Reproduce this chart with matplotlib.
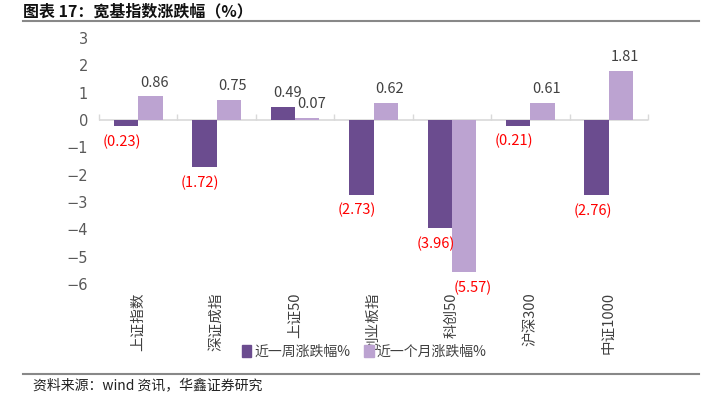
import numpy as np
import matplotlib
matplotlib.use("Agg")
import matplotlib.pyplot as plt
from matplotlib.lines import Line2D

plt.rcParams['font.family'] = ['Noto Sans CJK SC', 'DejaVu Sans']
plt.rcParams['axes.unicode_minus'] = False

categories = ["上证指数", "深证成指", "上证50", "创业板指", "科创50", "沪深300", "中证1000"]
week_chg = [-0.23, -1.72, 0.49, -2.73, -3.96, -0.21, -2.76]
month_chg = [0.86, 0.75, 0.07, 0.62, -5.57, 0.61, 1.81]
series_names = ["近一周涨跌幅%", "近一个月涨跌幅%"]
y_ticks = [3, 2, 1, 0, -1, -2, -3, -4, -5, -6]

c_week = "#6B4C8F"
c_month = "#BCA3D1"
tick_gray = "#595959"

fig = plt.figure(figsize=(7.06, 3.98), dpi=100)
ax = fig.add_axes([99/706, 1 - 284/398, 549/706, 246/398])

x = np.arange(len(categories))
w = 0.31
b1 = ax.bar(x - w/2, week_chg, w, color=c_week, label=series_names[0])
b2 = ax.bar(x + w/2, month_chg, w, color=c_month, label=series_names[1])

ax.set_xlim(-0.5, len(categories) - 0.5)
ax.set_ylim(-6, 3)
ax.set_yticks(y_ticks)
ax.set_yticklabels([f"{t}" if t >= 0 else f"−{-t}" for t in y_ticks], family=['DejaVu Sans'])
for s in ax.spines.values():
    s.set_visible(False)
ax.tick_params(axis='y', length=0, labelsize=10.5, colors=tick_gray, pad=8)
ax.set_xticks(x)
ax.set_xticklabels(categories, rotation=90, fontsize=10.5, color="#404040")
ax.tick_params(axis='x', length=0, pad=6)

# zero axis line with category boundary ticks
ax.axhline(0, color="#D9D9D9", lw=1.2, zorder=0)
zero_pos = (0 - (-6)) / 9
sec = ax.secondary_xaxis(zero_pos)
sec.set_xticks(np.arange(len(categories) + 1) - 0.5)
sec.set_xticklabels([])
sec.tick_params(axis='x', direction='out', length=4, color="#D9D9D9", width=1)
sec.spines['bottom'].set_visible(False)
sec.spines['top'].set_visible(False)

def label_bars(bars, vals, neg_dx):
    for b, v in zip(bars, vals):
        cx = b.get_x() + b.get_width() / 2
        if v >= 0:
            ax.annotate(f"{v:.2f}", (cx, v), xytext=(3, 5), textcoords='offset points',
                        ha='center', va='bottom', fontsize=10.5, color="#404040")
        else:
            ax.annotate(f"({-v:.2f})", (cx, v), xytext=(neg_dx, -6), textcoords='offset points',
                        ha='center', va='top', fontsize=10.5, color="#FF0000")

label_bars(b1, week_chg, -3)
label_bars(b2, month_chg, 6)

handles = [plt.Rectangle((0, 0), 1, 1, color=c_week), plt.Rectangle((0, 0), 1, 1, color=c_month)]
fig.legend(handles, series_names, loc='center', bbox_to_anchor=(364/706, 1 - 352/398),
           ncol=2, frameon=False, fontsize=10, handlelength=0.7, handleheight=0.9,
           handletextpad=0.2, columnspacing=1.0, labelcolor="#404040")

# title and source with rules
fig.text(23/706, 1 - 11/398, "图表 17：宽基指数涨跌幅（%）", fontsize=11.5, fontweight='bold',
         va='center', ha='left', color="#111111")
fig.add_artist(Line2D([23/706, 699/706], [1 - 21/398, 1 - 21/398], color="#888888", lw=1.5))
fig.add_artist(Line2D([23/706, 699/706], [1 - 374/398, 1 - 374/398], color="#888888", lw=1.5))
fig.text(33/706, 1 - 385/398, "资料来源：wind 资讯，华鑫证券研究", fontsize=10,
         va='center', ha='left', color="#222222")

fig.savefig("out.png", dpi=100)
